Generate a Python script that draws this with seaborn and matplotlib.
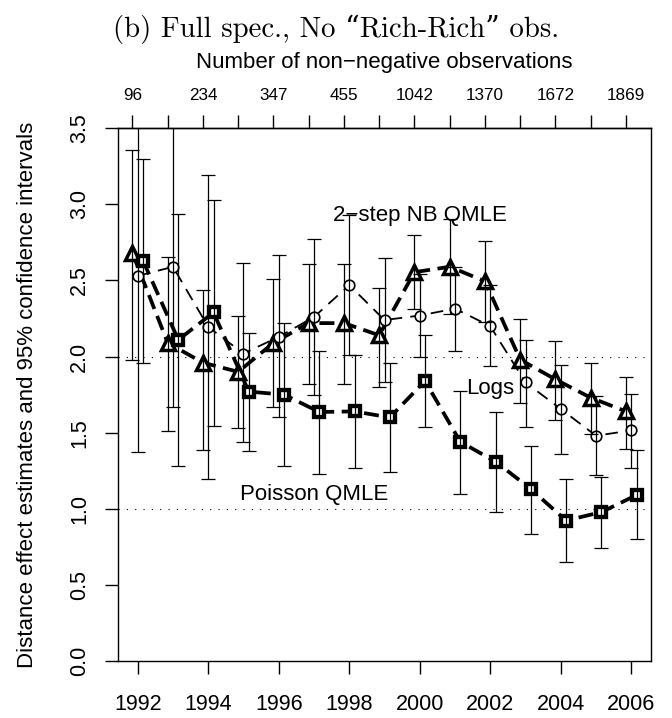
import numpy as np
import seaborn as sns
import matplotlib
matplotlib.use("Agg")
import matplotlib.pyplot as plt

# data
years = list(range(1992, 2007))
obs_years = [1992, 1994, 1996, 1998, 2000, 2002, 2004, 2006]
obs_labels = ["96", "234", "347", "455", "1042", "1370", "1672", "1869"]

nb_est = [2.68, 2.09, 1.96, 1.90, 2.09, 2.22, 2.22, 2.14, 2.555, 2.59, 2.495, 1.98, 1.85, 1.73, 1.64]
nb_lo = [1.98, 1.51, 1.386, 1.53, 1.667, 1.82, 1.82, 1.80, 2.31, 2.28, 2.23, 1.695, 1.585, 1.49, 1.39]
nb_hi = [3.355, 2.655, 2.44, 2.27, 2.51, 2.61, 2.61, 2.45, 2.80, 2.905, 2.76, 2.25, 2.105, 1.96, 1.866]

logs_est = [2.53, 2.59, 2.195, 2.02, 2.13, 2.26, 2.47, 2.24, 2.27, 2.315, 2.20, 1.83, 1.656, 1.48, 1.515]
logs_lo = [1.37, 1.67, 1.197, 1.436, 1.60, 1.75, 2.01, 1.83, 2.00, 2.04, 1.94, 1.54, 1.36, 1.22, 1.27]
logs_hi = [3.69, 3.51, 3.19, 2.615, 2.67, 2.77, 2.93, 2.65, 2.54, 2.59, 2.47, 2.11, 1.947, 1.74, 1.756]

pois_est = [2.63, 2.11, 2.29, 1.77, 1.75, 1.636, 1.64, 1.60, 1.84, 1.44, 1.31, 1.13, 0.923, 0.978, 1.09]
pois_lo = [1.96, 1.28, 1.546, 1.383, 1.283, 1.23, 1.267, 1.24, 1.54, 1.10, 0.98, 0.834, 0.653, 0.74, 0.80]
pois_hi = [3.30, 2.94, 3.03, 2.155, 2.22, 2.04, 2.01, 1.96, 2.145, 1.776, 1.634, 1.415, 1.195, 1.21, 1.385]

sns.set_theme(style="ticks")
plt.rcParams['font.family'] = ['Liberation Sans', 'DejaVu Sans']
plt.rcParams['axes.unicode_minus'] = True
plt.rcParams['text.color'] = 'black'
plt.rcParams['axes.labelcolor'] = 'black'
plt.rcParams['xtick.color'] = 'black'
plt.rcParams['ytick.color'] = 'black'
plt.rcParams['axes.edgecolor'] = 'black'

fig = plt.figure(figsize=(6.72, 7.18), dpi=100)
ax = fig.add_axes([118 / 672, 1 - 661 / 718, 533 / 672, 532.7 / 718])

series = [
    # est, lo, hi, x offset, marker, ms, mew, lw, dashes
    (nb_est, nb_lo, nb_hi, -0.15, "^", 9.8, 2.5, 2.7, (4, 2)),
    (logs_est, logs_lo, logs_hi, 0.0, "o", 7.6, 1.2, 1.3, (7, 4.5)),
    (pois_est, pois_lo, pois_hi, 0.15, "s", 6.5, 3.1, 2.7, (4, 2)),
]

for est, lo, hi, off, mk, ms, mew, lw, dash in series:
    est = np.array(est)
    x = np.array(years) + off
    sns.lineplot(x=x, y=est, ax=ax, color="black", linewidth=lw,
                 linestyle=(0, dash), marker=mk, markersize=ms,
                 markeredgewidth=mew, markeredgecolor="black",
                 markerfacecolor="white", zorder=2)
    ax.errorbar(x, est, yerr=[est - np.array(lo), np.array(hi) - est],
                fmt="none", ecolor="black", elinewidth=0.9,
                capsize=4.7, capthick=0.9, zorder=3)

for yref in [1.0, 2.0]:
    ax.axhline(yref, color="black", linewidth=0.8,
               linestyle=(0, (1, 6.5)), zorder=1)

ax.text(2000, 2.89, "2\u2212step NB QMLE", ha="center", va="baseline", fontsize=16, zorder=4)
ax.text(2002, 1.757, "Logs", ha="center", va="baseline", fontsize=16, zorder=4)
ax.text(1997, 1.055, "Poisson QMLE", ha="center", va="baseline", fontsize=16, zorder=4)

ax.set_xlim(1991.44, 2006.56)
ax.set_ylim(0, 3.5)
ax.set_xticks(list(range(1992, 2007, 2)))
yt = np.arange(0, 3.51, 0.5)
ax.set_yticks(yt)
ax.set_yticklabels([f"{v:.1f}" for v in yt], rotation=90, va="center", ha="right")
ax.tick_params(axis="x", length=9.6, width=1.0, pad=14.5, labelsize=15.5)
ax.tick_params(axis="y", length=9.6, width=1.0, pad=10.4, labelsize=15.5)
for s in ax.spines.values():
    s.set_linewidth(1.0)

ax.set_xlabel("")
ax.set_ylabel("Distance effect estimates and 95% confidence intervals", fontsize=16)
ax.yaxis.set_label_coords(-0.150, 0.5)

# top axis: number of observations, ticks aligned with NB points
top_labels = []
for yr in years:
    top_labels.append(obs_labels[obs_years.index(yr)] if yr in obs_years else "")
secax = ax.secondary_xaxis("top")
secax.set_xticks([yr - 0.15 for yr in years])
secax.set_xticklabels(top_labels)
secax.tick_params(axis="x", length=9.6, width=1.0, pad=8.4, labelsize=12.3)
secax.spines["top"].set_linewidth(1.0)
ax.text(0.5, (661 - 68) / 532.7, "Number of non\u2212negative observations",
        transform=ax.transAxes, ha="center", va="baseline", fontsize=16)

fig.text(0.5, 1 - 37 / 718, "(b) Full spec., No \u201cRich-Rich\u201d obs.",
         ha="center", va="baseline", fontsize=20.7, family=["cmr10", "DejaVu Serif"])

fig.savefig("out.png", dpi=100)
